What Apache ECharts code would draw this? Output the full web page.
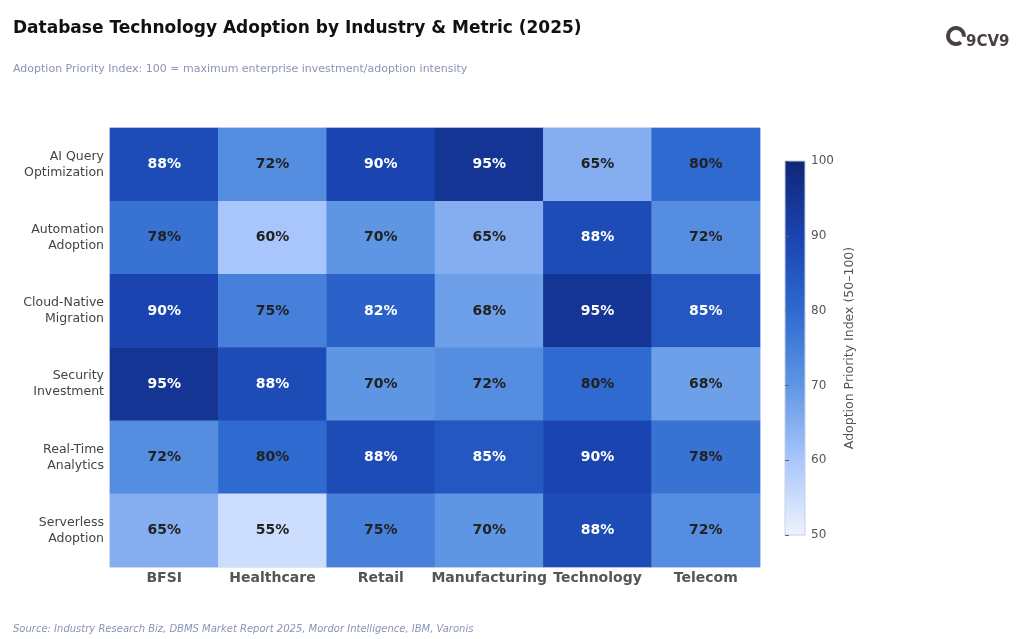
<!DOCTYPE html>
<html><head><meta charset="utf-8">
<script src="https://cdn.jsdelivr.net/npm/echarts@6/dist/echarts.min.js"></script>
<style>html,body{margin:0;padding:0;background:#fff}#c{width:1024px;height:639px}</style>
</head><body><div id="c"></div>
<script>
const industries = ['BFSI','Healthcare','Retail','Manufacturing','Technology','Telecom'];
const metrics = ['AI Query\nOptimization','Automation\nAdoption','Cloud-Native\nMigration','Security\nInvestment','Real-Time\nAnalytics','Serverless\nAdoption'];
const aiQuery = [88,72,90,95,65,80];
const automation = [78,60,70,65,88,72];
const cloudNative = [90,75,82,68,95,85];
const security = [95,88,70,72,80,68];
const realTime = [72,80,88,85,90,78];
const serverless = [65,55,75,70,88,72];
const rows = [aiQuery, automation, cloudNative, security, realTime, serverless];
const colorTicks = [50,60,70,80,90,100];

const stops = ['#eef3fd','#a9c6fc','#5f96e4','#2e6ad0','#1a44b0','#0f2677'];
const data = [];
rows.forEach((r, ri) => r.forEach((v, ci) => {
  data.push({value: [ci, ri, v], label: {color: v > 80 ? '#ffffff' : '#222222'}});
}));

const chart = echarts.init(document.getElementById('c'));
chart.setOption({
  backgroundColor: '#fff',
  animation: false,
  title: [
    {text: 'Database Technology Adoption by Industry & Metric (2025)', left: 8, top: 15,
     textStyle: {fontFamily: 'DejaVu Sans', fontSize: 17, fontWeight: 'bold', color: '#111'}},
    {text: 'Adoption Priority Index: 100 = maximum enterprise investment/adoption intensity', left: 8, top: 59,
     textStyle: {fontFamily: 'DejaVu Sans', fontSize: 11, fontWeight: 'normal', color: '#8a93b8'}},
    {text: 'Source: Industry Research Biz, DBMS Market Report 2025, Mordor Intelligence, IBM, Varonis', left: 8, top: 619,
     textStyle: {fontFamily: 'DejaVu Sans', fontSize: 10, fontStyle: 'italic', fontWeight: 'normal', color: '#8a93b8'}},
    {text: '9CV9', left: 961, top: 30, textStyle: {fontFamily: 'DejaVu Sans', fontSize: 15, fontWeight: 'bold', color: '#4a4040'}}
  ],
  graphic: [{type: 'arc', shape: {cx: 956, cy: 36, r: 8, startAngle: 0.9, endAngle: 0.3 + Math.PI * 2 - 0.2}, style: {fill: 'none', stroke: '#4a4040', lineWidth: 4}}],
  grid: [
    {left: 110, right: 264, top: 128, bottom: 72, show: true, borderColor: '#c8cfe0', borderWidth: 1},
    {left: 785, width: 20, top: 161, height: 374, show: true, borderColor: '#c8cfe0', borderWidth: 1,
     backgroundColor: {type: 'linear', x: 0, y: 1, x2: 0, y2: 0,
       colorStops: stops.map((c, i) => ({offset: i / (stops.length - 1), color: c}))}}
  ],
  xAxis: [
    {type: 'category', data: industries, gridIndex: 0, axisLine: {show: false}, axisTick: {show: false},
     axisLabel: {interval: 0, fontFamily: 'DejaVu Sans', fontSize: 14, fontWeight: 'bold', color: '#555', margin: 4}},
    {type: 'value', gridIndex: 1, show: false}
  ],
  yAxis: [
    {type: 'category', data: metrics, inverse: true, gridIndex: 0, axisLine: {show: false}, axisTick: {show: false},
     axisLabel: {interval: 0, fontFamily: 'DejaVu Sans', fontSize: 12.5, color: '#444', lineHeight: 16, margin: 6, align: 'right'}},
    {type: 'value', gridIndex: 1, min: colorTicks[0], max: colorTicks[colorTicks.length - 1], interval: 10, position: 'right',
     axisLine: {show: false}, splitLine: {show: false},
     axisTick: {show: true, length: 4, lineStyle: {color: '#666'}},
     axisLabel: {fontFamily: 'DejaVu Sans', fontSize: 12, color: '#555', margin: 6},
     name: 'Adoption Priority Index (50\u2013100)', nameLocation: 'middle', nameGap: 38, nameRotate: 90,
     nameTextStyle: {fontFamily: 'DejaVu Sans', fontSize: 12.5, color: '#555'}}
  ],
  visualMap: {show: false, min: 50, max: 100, dimension: 2, inRange: {color: stops}},
  series: [{
    type: 'heatmap', xAxisIndex: 0, yAxisIndex: 0, data: data,
    label: {show: true, formatter: p => p.value[2] + '%', fontFamily: 'DejaVu Sans', fontSize: 14, fontWeight: 'bold'},
    itemStyle: {borderWidth: 0}
  }]
});
</script></body></html>
